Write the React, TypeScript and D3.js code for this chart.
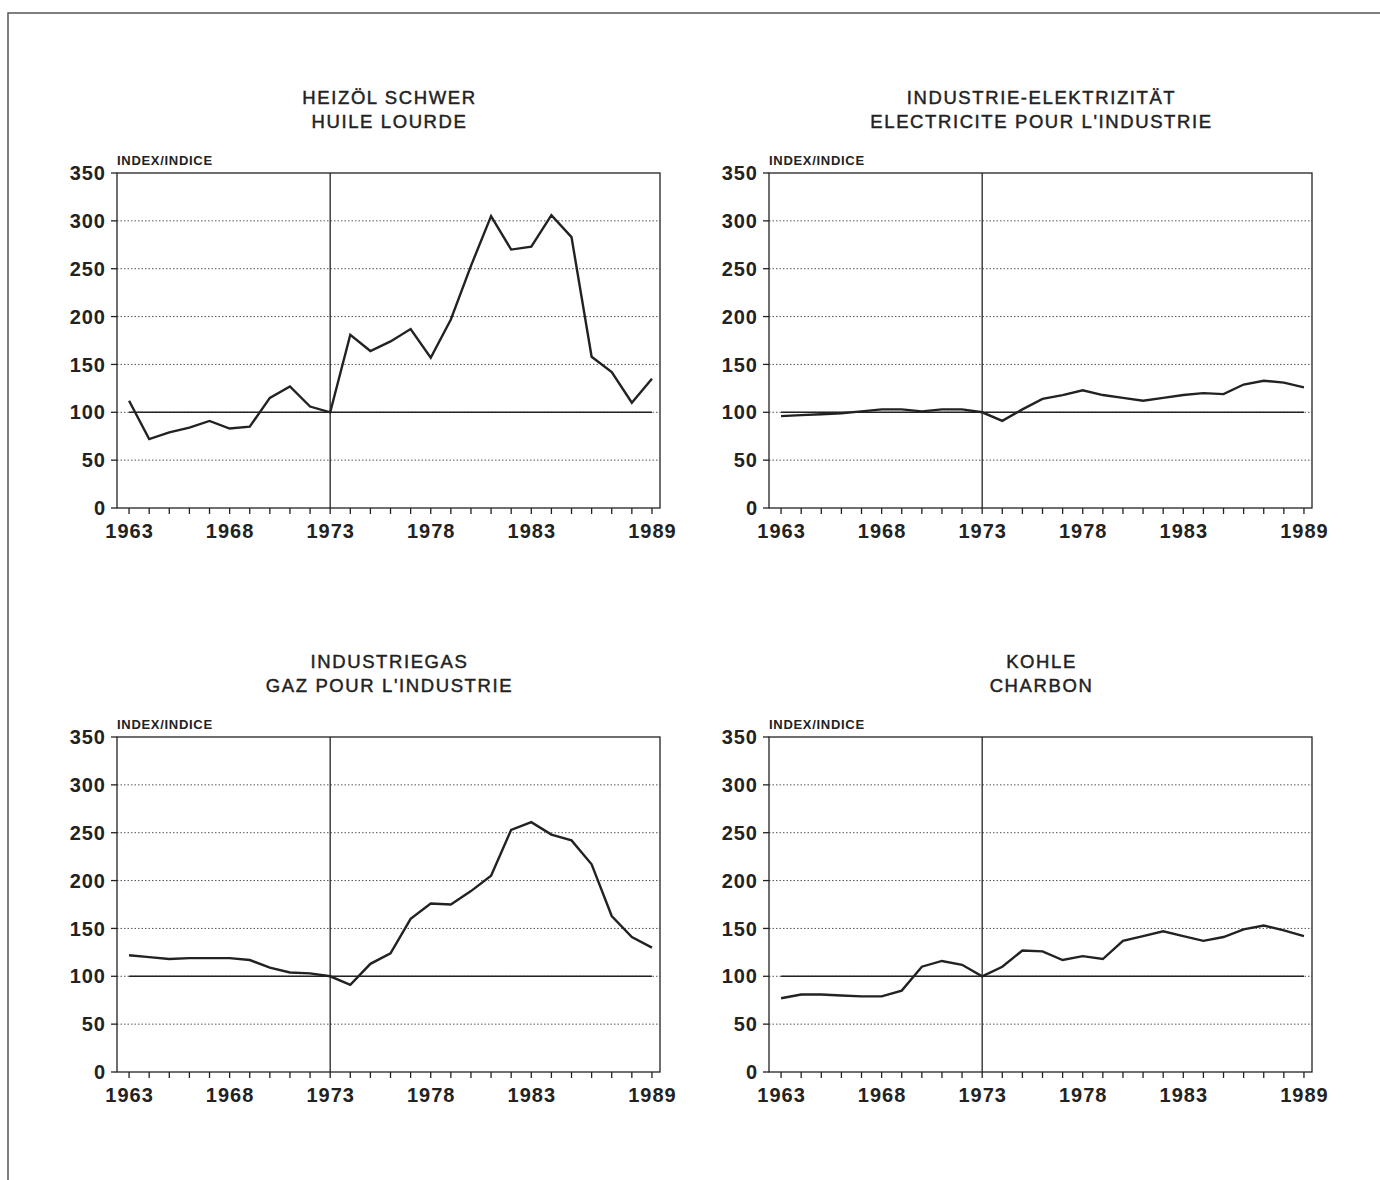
import React from "react";
import * as d3 from "d3";

const years = d3.range(1963, 1990);
const yTicks = [0, 50, 100, 150, 200, 250, 300, 350];
const xTickLabels = [1963, 1968, 1973, 1978, 1983, 1989];

const heizoel = [112, 72, 79, 84, 91, 83, 85, 115, 127, 106, 100, 181, 164, 174, 187, 157, 197, 253, 305, 270, 273, 306, 283, 158, 142, 110, 135];
const elektrizitaet = [96, 97, 98, 99, 101, 103, 103, 101, 103, 103, 100, 91, 103, 114, 118, 123, 118, 115, 112, 115, 118, 120, 119, 129, 133, 131, 126];
const industriegas = [122, 120, 118, 119, 119, 119, 117, 109, 104, 103, 100, 91, 113, 124, 160, 176, 175, 189, 205, 253, 261, 248, 242, 217, 163, 141, 130];
const kohle = [77, 81, 81, 80, 79, 79, 85, 110, 116, 112, 100, 110, 127, 126, 117, 121, 118, 137, 142, 147, 142, 137, 141, 149, 153, 148, 142];

const titlesDe = ["HEIZÖL SCHWER", "INDUSTRIE-ELEKTRIZITÄT", "INDUSTRIEGAS", "KOHLE"];
const titlesFr = ["HUILE LOURDE", "ELECTRICITE POUR L'INDUSTRIE", "GAZ POUR L'INDUSTRIE", "CHARBON"];
const seriesList = [heizoel, elektrizitaet, industriegas, kohle];
const panelOrigins = [
  [117, 173],
  [769, 173],
  [117, 737],
  [769, 737],
];

const PW = 543;
const PH = 335;
const FONT = "'Liberation Sans', Arial, Helvetica, sans-serif";
const INK = "#222";

function Panel({ idx }: { idx: number }) {
  const [ox, oy] = panelOrigins[idx];
  const x = d3.scaleLinear().domain([1962.4, 1989.4]).range([ox, ox + PW]);
  const y = d3.scaleLinear().domain([0, 350]).range([oy + PH, oy]);
  const data = seriesList[idx];
  const line = d3
    .line<number>()
    .x((_, i) => x(years[i]))
    .y((d) => y(d));
  const cx = ox + PW / 2;
  return (
    <g>
      <text x={cx + 1} y={oy - 69} textAnchor="middle" fontFamily={FONT} fontSize={18.5} letterSpacing={1.6} fill={INK} stroke={INK} strokeWidth={0.45}>
        {titlesDe[idx]}
      </text>
      <text x={cx + 1} y={oy - 45} textAnchor="middle" fontFamily={FONT} fontSize={18.5} letterSpacing={1.6} fill={INK} stroke={INK} strokeWidth={0.45}>
        {titlesFr[idx]}
      </text>
      <text x={ox} y={oy - 8} fontFamily={FONT} fontSize={13} fontWeight="bold" letterSpacing={0.7} fill={INK}>
        INDEX/INDICE
      </text>
      {yTicks
        .filter((t) => t > 0 && t < 350)
        .map((t) => (
          <line key={"g" + t} x1={ox} x2={ox + PW} y1={y(t)} y2={y(t)} stroke="#555" strokeWidth={1} strokeDasharray="1.5,2" />
        ))}
      <line x1={x(1963)} x2={x(1989)} y1={y(100)} y2={y(100)} stroke={INK} strokeWidth={1.4} />
      <line x1={x(1973)} x2={x(1973)} y1={y(350)} y2={y(0)} stroke={INK} strokeWidth={1.3} />
      <rect x={ox} y={oy} width={PW} height={PH} fill="none" stroke={INK} strokeWidth={1.3} />
      {yTicks.map((t) => (
        <g key={"y" + t}>
          <line x1={ox - 6} x2={ox} y1={y(t)} y2={y(t)} stroke={INK} strokeWidth={1.3} />
          <text x={ox - 11} y={y(t)} dy="0.36em" textAnchor="end" fontFamily={FONT} fontSize={20} fontWeight="bold" letterSpacing={1} fill={INK}>
            {t}
          </text>
        </g>
      ))}
      {years.map((yr) => (
        <line key={"x" + yr} x1={x(yr)} x2={x(yr)} y1={oy + PH} y2={oy + PH + 6} stroke={INK} strokeWidth={1.3} />
      ))}
      {xTickLabels.map((yr) => (
        <text key={"xl" + yr} x={x(yr) + 0.5} y={oy + PH + 30} textAnchor="middle" fontFamily={FONT} fontSize={20} fontWeight="bold" letterSpacing={1} fill={INK}>
          {yr}
        </text>
      ))}
      <path d={line(data) || ""} fill="none" stroke={INK} strokeWidth={2.4} strokeLinejoin="miter" />
    </g>
  );
}

export default function App() {
  return (
    <svg width={1380} height={1180} style={{ position: "absolute", left: 0, top: 0, background: "#fff" }}>
      <rect x={0} y={0} width={1380} height={1180} fill="#fff" />
      <path d="M8,1180 V13 H1380" fill="none" stroke="#555" strokeWidth={1.5} />
      {[0, 1, 2, 3].map((i) => (
        <Panel key={i} idx={i} />
      ))}
    </svg>
  );
}
